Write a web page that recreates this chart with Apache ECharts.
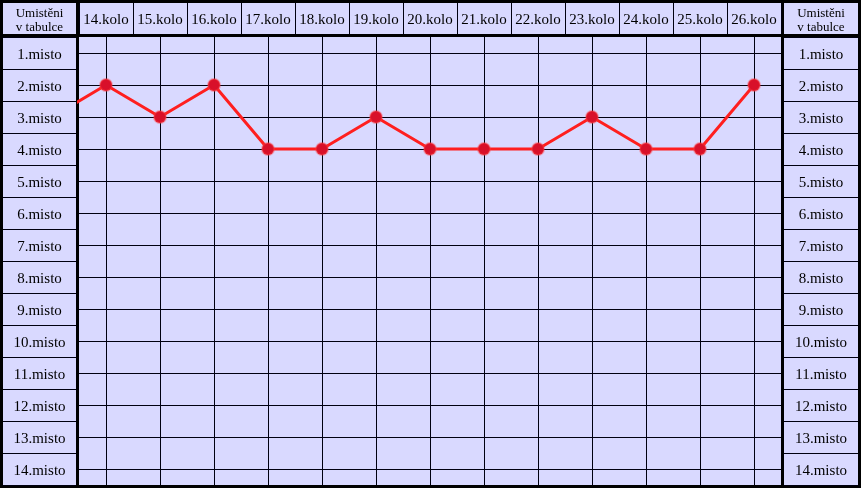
<!DOCTYPE html>
<html>
<head>
<meta charset="utf-8">
<script src="https://cdn.jsdelivr.net/npm/echarts@6/dist/echarts.min.js"></script>
<style>
  html, body { margin: 0; padding: 0; background: #000; }
  #chart { width: 861px; height: 488px; }
</style>
</head>
<body>
<div id="chart"></div>
<script>
// kola v zahlavi
const kola = ['14.kolo', '15.kolo', '16.kolo', '17.kolo', '18.kolo', '19.kolo', '20.kolo',
  '21.kolo', '22.kolo', '23.kolo', '24.kolo', '25.kolo', '26.kolo']
// radky tabulky
const mista = ['1.misto', '2.misto', '3.misto', '4.misto', '5.misto', '6.misto', '7.misto',
  '8.misto', '9.misto', '10.misto', '11.misto', '12.misto', '13.misto', '14.misto']
// umisteni po kolech (13.kolo je uz mimo graf, jen kvuli care)
const rounds = [13, 14, 15, 16, 17, 18, 19, 20, 21, 22, 23, 24, 25, 26]
const places = [3, 2, 3, 2, 4, 4, 3, 4, 4, 4, 3, 4, 4, 2]
const headerText = 'Umistěni\nv tabulce'

const bg = '#d9d9ff'
const lineCol = '#000010'
const font = '"Liberation Serif", "Times New Roman", serif'

const chart = echarts.init(document.getElementById('chart'))

const seriesData = rounds.map((r, i) => [r - 14, places[i] - 1])

// bocni sloupec s misty
const sideAxis = (grid, margin) => ({
  gridIndex: grid,
  type: 'category',
  inverse: true,
  data: mista,
  boundaryGap: true,
  axisLine: { show: false },
  axisTick: { show: false },
  splitLine: { show: true, interval: 0, lineStyle: { color: lineCol, width: 1 } },
  axisLabel: {
    inside: true, interval: 0, margin: margin, align: 'center', verticalAlign: 'middle',
    formatter: '{t|{value}}',
    rich: { t: { padding: [5, 0, 0, 0], color: '#000', fontFamily: font, fontSize: 15 } },
    color: '#000', fontFamily: font, fontSize: 15
  }
})

const option = {
  backgroundColor: '#000',
  animation: false,
  grid: [
    { left: 79, top: 37, width: 702, height: 448, show: true, backgroundColor: bg, borderWidth: 0 },
    { left: 3, top: 37, width: 73, height: 448, show: true, backgroundColor: bg, borderWidth: 0 },
    { left: 784, top: 37, width: 74, height: 448, show: true, backgroundColor: bg, borderWidth: 0 },
    { left: 79, top: 3, width: 702, height: 31, show: true, backgroundColor: bg, borderWidth: 0 }
  ],
  xAxis: [
    {
      gridIndex: 0,
      type: 'category',
      data: kola,
      boundaryGap: true,
      axisLine: { show: false },
      axisLabel: { show: false, interval: 0 },
      axisTick: { show: true, interval: 0, alignWithLabel: true, inside: true, length: 448, lineStyle: { color: lineCol, width: 1 } },
      splitLine: { show: false }
    },
    { gridIndex: 1, type: 'value', show: false },
    { gridIndex: 2, type: 'value', show: false },
    {
      gridIndex: 3,
      type: 'category',
      position: 'bottom',
      data: kola,
      boundaryGap: true,
      axisLine: { show: false },
      axisTick: { show: false },
      splitLine: { show: true, interval: 0, lineStyle: { color: lineCol, width: 1 } },
      axisLabel: {
        inside: true, interval: 0, margin: 14, align: 'center', verticalAlign: 'middle',
        color: '#000', fontFamily: font, fontSize: 15
      }
    }
  ],
  yAxis: [
    {
      gridIndex: 0,
      type: 'category',
      inverse: true,
      data: mista,
      boundaryGap: true,
      axisLine: { show: false },
      axisLabel: { show: false, interval: 0 },
      axisTick: { show: true, interval: 0, alignWithLabel: true, inside: true, length: 702, lineStyle: { color: lineCol, width: 1 } },
      splitLine: { show: false }
    },
    sideAxis(1, 36.5),
    sideAxis(2, 37),
    { gridIndex: 3, type: 'value', show: false }
  ],
  graphic: [
    {
      type: 'group',
      children: [
        { type: 'rect', shape: { x: 3, y: 3, width: 73, height: 31 }, style: { fill: bg } },
        { type: 'rect', shape: { x: 784, y: 3, width: 74, height: 31 }, style: { fill: bg } },
        {
          type: 'text', x: 39.5, y: 21,
          style: { text: headerText, fill: '#000', font: '13px ' + font, align: 'center', verticalAlign: 'middle', lineHeight: 14 }
        },
        {
          type: 'text', x: 821, y: 21,
          style: { text: headerText, fill: '#000', font: '13px ' + font, align: 'center', verticalAlign: 'middle', lineHeight: 14 }
        }
      ]
    }
  ],
  series: [
    {
      type: 'line',
      xAxisIndex: 0,
      yAxisIndex: 0,
      data: seriesData,
      clip: true,
      symbol: 'circle',
      symbolSize: 12,
      lineStyle: { color: '#ff1f1f', width: 3 },
      itemStyle: { color: '#d8102a', borderColor: 'rgba(255,60,60,0.4)', borderWidth: 2 }
    }
  ]
}

chart.setOption(option)
</script>
</body>
</html>
